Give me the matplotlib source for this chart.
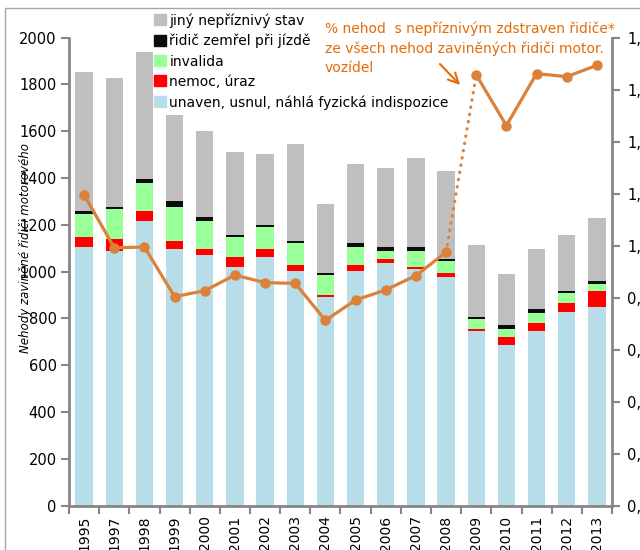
import matplotlib.pyplot as plt
import numpy as np
from matplotlib.patches import Patch, Rectangle

# Nehody zaviněné řidiči motorových vozidel podle stavu řidiče
roky = ['1995', '1997', '1998', '1999', '2000', '2001', '2002', '2003', '2004',
        '2005', '2006', '2007', '2008', '2009', '2010', '2011', '2012', '2013']
unaven = [1107, 1090, 1218, 1097, 1071, 1021, 1064, 1004, 893,
          1004, 1037, 1012, 979, 748, 688, 748, 826, 850]
nemoc = [43, 50, 41, 34, 26, 42, 33, 25, 7, 25, 17, 9, 15, 7, 33, 34, 42, 69]
invalida = [95, 130, 121, 147, 121, 87, 95, 95, 86, 78, 36, 67, 53, 44, 35, 43, 42, 27]
zemrel = [16, 7, 16, 24, 17, 7, 9, 8, 7, 16, 17, 19, 9, 7, 16, 16, 8, 14]
jiny = [591, 549, 542, 369, 368, 353, 301, 412, 295, 336, 335, 378, 376, 309, 218, 257, 240, 268]

# podíl nehod s nepříznivým stavem řidiče (%)
podil = [1.196, 0.992, 0.995, 0.804, 0.827, 0.887, 0.858, 0.855, 0.713,
         0.791, 0.830, 0.885, 0.975, 1.657, 1.462, 1.662, 1.650, 1.694]

serie = [
    (unaven, '#B7DDE8', 'unaven, usnul, náhlá fyzická indispozice'),
    (nemoc, '#FF0000', 'nemoc, úraz'),
    (invalida, '#99FF99', 'invalida'),
    (zemrel, '#0D0D0D', 'řidič zemřel při jízdě'),
    (jiny, '#BFBFBF', 'jiný nepříznivý stav'),
]

oranzova = '#DB8139'
osa = '#868686'

fig = plt.figure(figsize=(6.4, 5.5), dpi=100)
ax = fig.add_axes([69 / 640, 44.3 / 550, 543 / 640, 468 / 550])

x = np.arange(len(roky))
spodek = np.zeros(len(roky))
for hodnoty, barva, nazev in serie:
    ax.bar(x, hodnoty, 0.58, bottom=spodek, color=barva, label=nazev, zorder=2)
    spodek += np.array(hodnoty)

ax.set_xlim(-0.5, len(roky) - 0.5)
ax.set_ylim(0, 2000)
ax.set_yticks(range(0, 2001, 200))
ax.set_xticks(x)
ax.set_xticklabels(roky, rotation=90, fontsize=10)
ax.set_xticks(np.arange(-0.5, len(roky), 1), minor=True)
ax.tick_params(axis='x', which='major', length=0, pad=7)
ax.tick_params(axis='x', which='minor', length=6, width=1.5, color=osa)
ax.tick_params(axis='y', length=6, width=1.5, color=osa, labelsize=10.5, pad=3)
ax.spines['top'].set_visible(False)
ax.spines['right'].set_visible(False)
for s in ['left', 'bottom']:
    ax.spines[s].set_color(osa)
    ax.spines[s].set_linewidth(2)

# pravá osa s podílem
ax2 = ax.twinx()
ax2.set_ylim(0, 1.8)
ticky = np.arange(0, 1.81, 0.2)
ax2.set_yticks(ticky)
ax2.set_yticklabels([f'{t:.1f}'.replace('.', ',') for t in ticky])
ax2.tick_params(axis='y', length=6, width=1.5, color=osa, labelsize=10.5, pad=5)
for s in ['left', 'top', 'bottom']:
    ax2.spines[s].set_visible(False)
ax2.spines['right'].set_color(osa)
ax2.spines['right'].set_linewidth(2)

styl = dict(color=oranzova, lw=2.3, marker='o', ms=6.5, solid_capstyle='round')
ax2.plot(x[:13], podil[:13], **styl)
ax2.plot(x[12:14], podil[12:14], color=oranzova, lw=2.3, linestyle=(0, (0.1, 2.2)),
         dash_capstyle='round')
ax2.plot(x[13:], podil[13:], **styl)

ax.set_ylabel('Nehody zaviněné řidiči motorového', fontsize=8.5, style='italic')
ax.yaxis.set_label_coords(-0.068, 0.55)

h = [Patch(color=b) for _, b, _ in serie][::-1]
l = [n for _, _, n in serie][::-1]
fig.legend(h, l, loc='upper left', bbox_to_anchor=(154 / 640, 1 - 13 / 550),
           frameon=False, fontsize=10, handlelength=0.85, handleheight=0.85,
           handletextpad=0.25, labelspacing=0.45, borderpad=0, borderaxespad=0)

fig.text(325 / 640, 1 - 22 / 550,
         '% nehod  s nepříznivým zdstraven řidiče*\nze všech nehod zaviněných řidiči motor.\nvozídel',
         color='#E36C09', fontsize=10, va='top', ha='left', linespacing=1.45)
ax.annotate('', xy=(462, 550 - 87), xycoords='figure pixels',
            xytext=(438, 550 - 62), textcoords='figure pixels',
            arrowprops=dict(arrowstyle='->', color='#E36C09', lw=1.5,
                            mutation_scale=18))

fig.add_artist(Rectangle((5 / 640, -0.1), 1.2, 1.1 - 8 / 550,
                         transform=fig.transFigure, fill=False,
                         edgecolor='#A6A6A6', lw=1))

fig.savefig('out.png', dpi=100)
